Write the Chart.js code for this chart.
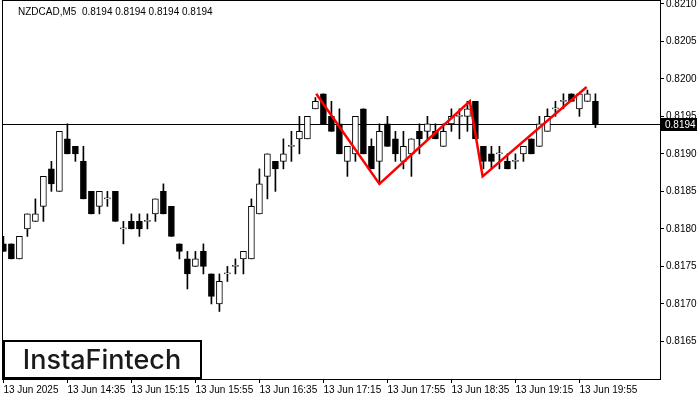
<!DOCTYPE html>
<html>
<head>
<meta charset="utf-8">
<script src="https://cdn.jsdelivr.net/npm/chart.js@4.4.1/dist/chart.umd.min.js"></script>
<style>
  html, body { margin: 0; padding: 0; background: #fff; }
  #wrap { width: 700px; height: 400px; }
</style>
</head>
<body>
<div id="wrap"><canvas id="plot"></canvas></div>
<script>
// velas M5, una cada 5 minutos desde 13:55
const opens  = [0.8178,0.8178,0.8176,0.8180,0.8181,0.8183,0.8188,0.8185,0.8192,0.8191,
                0.8189,0.8185,0.8183,0.8184,0.8185,0.8180,0.8181,0.8181,0.8181,0.8182,
                0.8185,0.8183,0.8178,0.8176,0.8175,0.8177,0.8174,0.8170,0.8174,0.8175,
                0.8176,0.8176,0.8182,0.8187,0.8189,0.8189,0.8191,0.8192,0.8192,0.8196,
                0.8198,0.8195,0.8194,0.8189,0.8190,0.8196,0.8191,0.8189,0.8194,0.8192,
                0.8189,0.8190,0.8193,0.8193,0.8193,0.8191,0.8194,0.8195,0.8195,0.8197,
                0.8191,0.8190,0.8190,0.8189,0.8189,0.8190,0.8192,0.8191,0.8193,0.8196,
                0.8197,0.8198,0.8196,0.8197,0.8197];
const highs  = [0.8179,0.8178,0.8179,0.8182,0.8184,0.8187,0.8189,0.8193,0.8194,0.8191,
                0.8191,0.8185,0.8185,0.8185,0.8185,0.8181,0.8182,0.8182,0.8182,0.8184,
                0.8186,0.8183,0.8178,0.8177,0.8177,0.8178,0.8174,0.8174,0.8175,0.8176,
                0.8177,0.8184,0.8188,0.8190,0.8189,0.8192,0.8193,0.8195,0.8195,0.81975,
                0.8198,0.8197,0.8196,0.8191,0.8195,0.8196,0.8192,0.8194,0.8195,0.8193,
                0.8193,0.8192,0.8194,0.8195,0.8194,0.8194,0.8196,0.8196,0.8197,0.8197,
                0.8191,0.8191,0.8191,0.8190,0.8190,0.8191,0.8192,0.8195,0.8196,0.8197,
                0.8198,0.8198,0.8198,0.81985,0.8198];
const lows   = [0.8177,0.8176,0.8176,0.8179,0.8181,0.8181,0.8185,0.8185,0.8190,0.8189,
                0.8184,0.8182,0.8182,0.8183,0.8181,0.8178,0.8180,0.8179,0.8180,0.8181,
                0.8182,0.8179,0.8176,0.8172,0.8175,0.8174,0.8170,0.8169,0.8173,0.8174,
                0.8174,0.8176,0.8182,0.8184,0.8185,0.8188,0.8189,0.8190,0.8192,0.8196,
                0.8194,0.8193,0.8190,0.8187,0.8189,0.8190,0.8188,0.8186,0.8191,0.8189,
                0.8188,0.8187,0.8190,0.8192,0.8192,0.8191,0.8193,0.8192,0.8193,0.8192,
                0.8188,0.8188,0.8188,0.8188,0.8188,0.8189,0.8190,0.8191,0.8193,0.8195,
                0.8196,0.8197,0.8195,0.8197,0.81935];
const closes = [0.8177,0.8176,0.8179,0.8182,0.8182,0.8187,0.8186,0.8193,0.8190,0.8190,
                0.8184,0.8182,0.8185,0.8184,0.8181,0.8180,0.8180,0.8180,0.8181,0.8184,
                0.8182,0.8179,0.8177,0.8174,0.8176,0.8175,0.8171,0.8173,0.8174,0.8175,
                0.8177,0.8183,0.8186,0.8190,0.8188,0.8190,0.8191,0.8193,0.8195,0.8197,
                0.8194,0.8193,0.8190,0.8191,0.8195,0.8190,0.8188,0.8193,0.8191,0.8190,
                0.8191,0.8192,0.8192,0.8194,0.8192,0.8193,0.8195,0.8195,0.8196,0.8192,
                0.8189,0.8189,0.8190,0.8188,0.8189,0.8191,0.8190,0.8194,0.8195,0.8196,
                0.8197,0.8197,0.8198,0.8198,0.8194];

// etiquetas del eje de tiempo (cada 8 velas)
const timeLabels = ["13 Jun 2025","13 Jun 14:35","13 Jun 15:15","13 Jun 15:55","13 Jun 16:35",
                    "13 Jun 17:15","13 Jun 17:55","13 Jun 18:35","13 Jun 19:15","13 Jun 19:55"];
const priceTicks = [0.8165,0.8170,0.8175,0.8180,0.8185,0.8190,0.8195,0.8200,0.8205,0.8210];

// figura (lineas rojas): indice de vela y precio
const patternIdx   = [39.1, 47.0, 58.3, 59.9, 72.9];
const patternPrice = [0.8198, 0.8186, 0.8197, 0.8187, 0.81989];

const lastPrice = 0.8194;
const title = "NZDCAD,M5  0.8194 0.8194 0.8194 0.8194";

let wicks = opens.map((o, i) => ({x: i, y: [lows[i], highs[i]]}));
let bodies = opens.map((o, i) => ({x: i, y: [Math.min(o, closes[i]), Math.max(o, closes[i])]}));
let bodyColors = opens.map((o, i) => closes[i] >= o ? '#ffffff' : '#000000');
let pattern = patternIdx.map((x, i) => ({x: x, y: patternPrice[i]}));

let decor = {
  id: 'decor',
  beforeDatasetsDraw(chart) {
    let {ctx, chartArea: a, scales} = chart;
    let y = Math.round(scales.y.getPixelForValue(lastPrice)) + 0.5;
    ctx.save();
    ctx.strokeStyle = '#000';
    ctx.lineWidth = 1;
    ctx.beginPath();
    ctx.moveTo(a.left, y);
    ctx.lineTo(a.right, y);
    ctx.stroke();
    ctx.restore();
  },
  afterDraw(chart) {
    let {ctx, chartArea: a, scales} = chart;
    ctx.save();
    // marco
    ctx.strokeStyle = '#000';
    ctx.lineWidth = 1;
    ctx.strokeRect(a.left - 0.5, 0.5, a.right - a.left + 1, a.bottom);
    // precio actual
    let y = Math.round(scales.y.getPixelForValue(lastPrice));
    ctx.fillStyle = '#000';
    ctx.fillRect(a.right, y - 6, 37, 13);
    ctx.fillStyle = '#fff';
    ctx.font = '10px "Liberation Sans"';
    ctx.textBaseline = 'middle';
    ctx.fillText(lastPrice.toFixed(4), a.right + 5, y + 1);
    // titulo
    ctx.fillStyle = '#000';
    ctx.font = '10px "Liberation Sans"';
    ctx.fillText(title, 18, 12);
    // logo
    ctx.fillStyle = '#fff';
    ctx.fillRect(4, 341, 197, 37);
    ctx.lineWidth = 2;
    ctx.strokeRect(4, 341, 197, 37);
    ctx.fillStyle = '#1a1a1a';
    ctx.font = '500 27px Inter';
    ctx.textAlign = 'center';
    ctx.fillText('InstaFintech', 102, 361);
    ctx.restore();
  }
};

let config = {
  type: 'bar',
  data: {
    datasets: [
      {
        type: 'line',
        data: pattern,
        borderColor: '#ff0000',
        borderWidth: 2.5,
        pointRadius: 0,
        order: 0,
      },
      {
        data: bodies,
        backgroundColor: bodyColors,
        borderColor: '#000',
        borderWidth: 1,
        borderSkipped: false,
        barThickness: 6,
        minBarLength: 1,
        grouped: false,
        order: 1,
      },
      {
        data: wicks,
        backgroundColor: '#000',
        borderWidth: 0,
        barThickness: 1,
        grouped: false,
        order: 2,
      },
    ]
  },
  options: {
    responsive: true,
    maintainAspectRatio: false,
    animation: false,
    layout: { padding: { left: 3, top: 0, right: 0, bottom: 0 } },
    plugins: { legend: { display: false }, tooltip: { enabled: false } },
    scales: {
      x: {
        type: 'linear',
        offset: false,
        min: -0.05,
        max: 82.07,
        afterBuildTicks: (s) => { s.ticks = timeLabels.map((t, i) => ({value: i * 8})); },
        afterFit: (s) => { s.height = 21; s.paddingLeft = 0; s.paddingRight = 0; },
        ticks: {
          align: 'start',
          maxRotation: 0,
          autoSkip: false,
          color: '#000',
          font: { family: 'Liberation Sans', size: 10 },
          padding: 1,
          callback: (v) => timeLabels[Math.round(v / 8)],
        },
        grid: { drawOnChartArea: false, tickLength: 4, color: '#000', offset: false },
        border: { color: '#000' },
      },
      y: {
        position: 'right',
        min: 0.816,
        max: 0.82105,
        afterBuildTicks: (s) => { s.ticks = priceTicks.map(v => ({value: v})); },
        afterFit: (s) => { s.width = 40; s.paddingTop = 0; s.paddingBottom = 0; },
        ticks: {
          color: '#000',
          font: { family: 'Liberation Sans', size: 10 },
          padding: 2,
          callback: (v) => v.toFixed(4),
        },
        grid: { drawOnChartArea: false, tickLength: 4, color: '#000' },
        border: { color: '#000' },
      }
    }
  },
  plugins: [decor]
};

let chart = new Chart(document.getElementById('plot'), config);
</script>
</body>
</html>
